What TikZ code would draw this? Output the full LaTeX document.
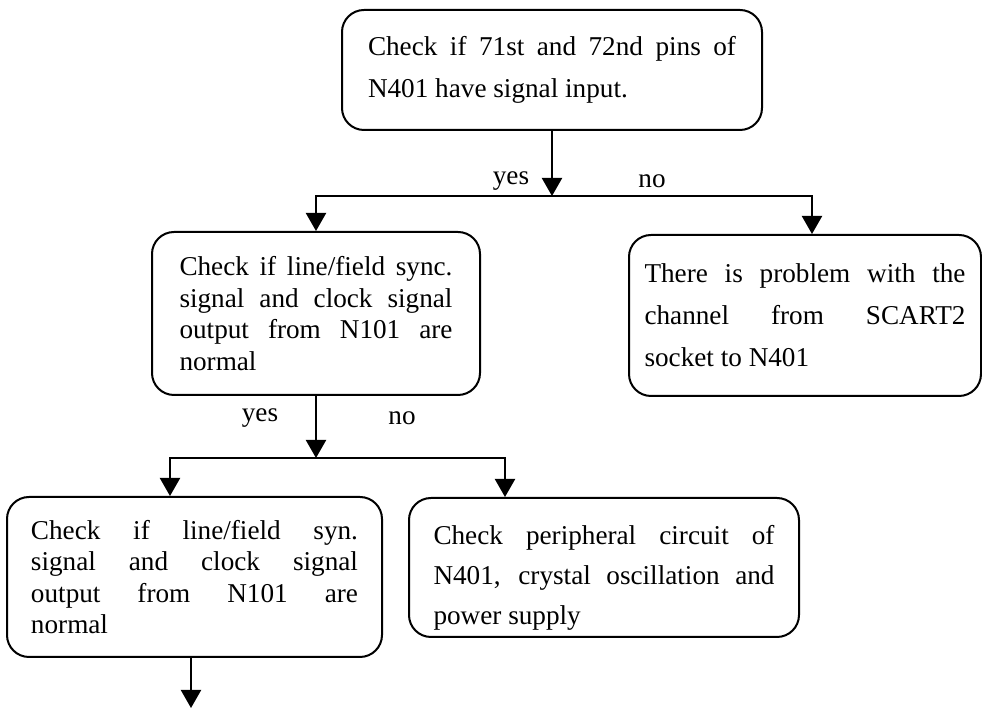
\documentclass[tikz,border=0pt]{standalone}
\usepackage{fontspec}
\setmainfont{Liberation Serif}
\usetikzlibrary{arrows.meta}

\begin{document}
\begin{tikzpicture}[
    x=0.5pt,y=-0.5pt,
    >={Triangle[length=9pt,width=10pt]},
    box/.style={
        draw,
        line width=1pt,
        rounded corners=11pt,
        align=justify,
        font=\fontsize{13.6}{21}\selectfont
    },
    tightbox/.style={
        box,
        font=\fontsize{13.6}{15.8}\selectfont
    },
    flow/.style={
        ->,
        line width=1pt
    },
    answer/.style={font=\fontsize{13.6}{16}\selectfont,inner sep=0pt}
    ]

    \useasboundingbox (0,0) rectangle (982,710);

    % boxes
    \node[box,text width=184pt,inner xsep=13pt,minimum height=60pt] (a) at (552,70)
        {Check if 71st and 72nd pins of\linebreak N401 have signal input.};
    \node[tightbox,text width=136.5pt,inner xsep=13.75pt,minimum height=81.5pt] (b) at (316,313.5)
        {Check if line/field sync.\linebreak signal and clock signal\linebreak output from N101 are\linebreak normal};
    \node[box,text width=160.5pt,inner xsep=7.75pt,minimum height=80.5pt] (c) at (805,315.5)
        {There is problem with the\linebreak channel from SCART2\linebreak socket to N401};
    \node[tightbox,text width=163.5pt,inner xsep=12pt,minimum height=80pt] (d) at (194.5,577)
        {Check if line/field syn.\linebreak signal and clock signal\linebreak output from N101 are\linebreak normal};
    \node[box,font=\fontsize{13.6}{20}\selectfont,text width=170.5pt,inner xsep=12.25pt,minimum height=69.5pt] (e) at (604,567.5)
        {\rule{0pt}{19.5pt}Check peripheral circuit of\linebreak N401, crystal oscillation and\linebreak power supply};

    % answers
    \node[answer] (y1) at (511,181) {yes};
    \node[answer] (n1) at (652,181) {no};
    \node[answer] (y2) at (260,418) {yes};
    \node[answer] (n2) at (402,418) {no};

    \coordinate (s1) at (552,196);
    \coordinate (s2) at (316,458);
    \coordinate (out) at (191,708);

    \draw[flow] (a.south) -- (s1);
    \draw[flow] (s1) -| (b.north);
    \draw[flow] (s1) -| ([xshift=3.5pt]c.north);
    \draw[flow] (b.south) -- (s2);
    \draw[flow] (s2) -| ([xshift=-12.25pt]d.north);
    \draw[flow] (s2) -| ([xshift=-49.5pt]e.north);
    \draw[flow] ([xshift=-1.75pt]d.south) -- (out);
\end{tikzpicture}
\end{document}
